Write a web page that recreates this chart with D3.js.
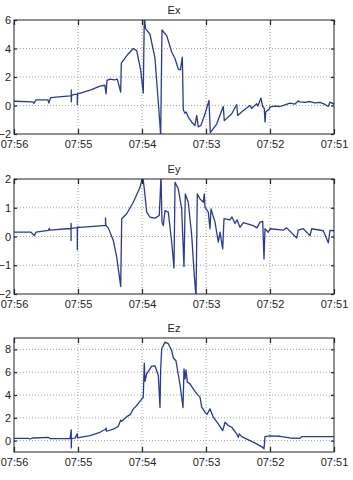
<!DOCTYPE html>
<html>
<head>
<meta charset="utf-8">
<script src="https://cdn.jsdelivr.net/npm/d3@7"></script>
<style>
  body { margin: 0; background: #fff; }
  svg { display: block; font-family: "Liberation Sans", Arial, sans-serif; }
</style>
</head>
<body>
<div id="chart"></div>
<script>
'use strict';

// time in decimal minutes after 07:00 (axis runs 07:56 -> 07:51)
const timeTicks = [56, 55, 54, 53, 52, 51];
const timeLabels = ['07:56', '07:55', '07:54', '07:53', '07:52', '07:51'];

const titles = ['Ex', 'Ey', 'Ez'];
const exTicks = [-2, 0, 2, 4, 6];
const eyTicks = [-2, -1, 0, 1, 2];
const ezTicks = [0, 2, 4, 6, 8];

const exData = [
    [56.000, 0.30], [55.703, 0.25], [55.690, 0.14], [55.656, 0.40], [55.470, 0.40],
    [55.455, 0.17], [55.427, 0.55], [55.125, 0.68], [55.105, 0.70], [55.105, 1.10],
    [55.105, 0.25], [55.100, 0.72], [55.047, 0.78], [55.011, 0.80], [55.011, 0.05],
    [55.005, 0.85], [54.969, 0.85], [54.800, 1.10], [54.656, 1.36], [54.580, 1.42],
    [54.562, 0.82], [54.547, 1.76], [54.500, 1.85], [54.430, 1.80], [54.386, 1.85],
    [54.333, 0.94], [54.323, 2.98], [54.220, 3.60], [54.136, 4.00], [54.083, 3.85],
    [54.020, 2.46], [53.980, 0.87], [53.964, 6.30], [53.945, 5.40], [53.875, 5.00],
    [53.797, 3.30], [53.730, -0.70], [53.708, -2.10], [53.688, 5.30], [53.614, 4.90],
    [53.536, 3.75], [53.484, 3.30], [53.433, 2.55], [53.400, 2.50], [53.370, 3.40],
    [53.355, -0.30], [53.330, -0.55], [53.310, -0.45], [53.277, -0.82], [53.223, -1.17],
    [53.172, -1.40], [53.145, -0.70], [53.120, -1.50], [53.080, -1.40], [53.016, -0.60],
    [52.953, 0.35], [52.933, -1.90], [52.833, -1.30], [52.730, -0.07], [52.714, -1.06],
    [52.598, -0.58], [52.520, 0.07], [52.505, -0.70], [52.417, -0.35], [52.313, 0.00],
    [52.286, -0.20], [52.208, 0.12], [52.190, -0.05], [52.141, 0.52], [52.114, -0.07],
    [52.090, -0.20], [52.078, -1.15], [52.067, -0.45], [52.011, -0.25], [52.000, -0.10],
    [51.920, -0.05], [51.844, -0.07], [51.766, 0.05], [51.688, 0.17], [51.610, 0.10],
    [51.560, 0.32], [51.531, 0.25], [51.450, 0.22], [51.375, 0.28], [51.300, 0.18],
    [51.220, 0.22], [51.150, 0.10], [51.089, -0.07], [51.063, 0.24], [51.000, 0.10]
];

const eyData = [
    [56.000, 0.15], [55.734, 0.15], [55.683, 0.03], [55.656, 0.15], [55.464, 0.21],
    [55.448, 0.28], [55.438, 0.22], [55.177, 0.27], [55.109, 0.27], [55.109, -0.14],
    [55.109, 0.46], [55.105, 0.28], [55.047, 0.30], [55.011, 0.30], [55.011, -0.46],
    [55.008, 0.33], [54.969, 0.32], [54.605, 0.38], [54.570, 0.38], [54.570, 0.65],
    [54.565, 0.38], [54.527, 0.30], [54.448, -0.14], [54.395, -0.72], [54.359, -1.30],
    [54.333, -1.74], [54.317, 0.62], [54.239, 0.79], [54.136, 1.19], [54.031, 1.71],
    [53.989, 2.10], [53.964, 1.66], [53.927, 0.85], [53.875, 0.67], [53.797, 0.64],
    [53.730, 0.73], [53.703, 2.10], [53.688, 0.50], [53.667, 0.38], [53.641, 0.90],
    [53.589, 0.85], [53.536, -0.20], [53.500, -1.10], [53.484, 1.89], [53.433, 1.66],
    [53.380, 0.96], [53.344, -1.05], [53.323, 1.48], [53.277, 1.19], [53.223, 0.03],
    [53.183, -1.36], [53.156, -2.10], [53.136, 1.48], [53.094, 1.31], [53.042, 1.19],
    [53.027, 1.48], [53.016, 1.02], [52.964, 0.85], [52.938, 0.27], [52.922, 0.96],
    [52.859, 0.50], [52.808, -0.20], [52.781, 0.15], [52.739, -0.43], [52.719, 0.62],
    [52.625, 0.58], [52.594, 0.68], [52.547, 0.45], [52.516, 0.58], [52.469, 0.32],
    [52.417, 0.48], [52.261, 0.38], [52.203, 0.30], [52.156, 0.50], [52.114, 0.53],
    [52.094, -0.78], [52.078, 0.27], [52.027, 0.15], [52.000, 0.27], [51.792, 0.22],
    [51.739, 0.30], [51.583, -0.05], [51.558, 0.22], [51.480, 0.27], [51.375, 0.03],
    [51.348, 0.27], [51.167, 0.20], [51.089, -0.22], [51.063, 0.21], [51.000, 0.20]
];

const ezData = [
    [56.000, 0.20], [55.781, 0.20], [55.750, 0.14], [55.703, 0.23], [55.464, 0.29],
    [55.438, 0.18], [55.125, 0.18], [55.105, 0.94], [55.105, -0.64], [55.100, 0.20],
    [55.047, 0.22], [55.011, 0.59], [55.008, 0.25], [54.969, 0.29], [54.813, 0.44],
    [54.656, 0.73], [54.570, 1.00], [54.562, 1.11], [54.555, 0.82], [54.448, 1.00],
    [54.370, 1.25], [54.333, 1.80], [54.317, 1.70], [54.239, 2.10], [54.188, 2.25],
    [54.136, 2.78], [54.083, 3.08], [54.031, 3.46], [53.980, 3.80], [53.964, 6.80],
    [53.953, 5.20], [53.927, 5.86], [53.848, 6.53], [53.797, 6.56], [53.745, 5.71],
    [53.719, 2.90], [53.708, 6.30], [53.692, 8.06], [53.641, 8.64], [53.589, 8.50],
    [53.536, 7.90], [53.511, 7.25], [53.469, 7.00], [53.406, 4.90], [53.359, 2.90],
    [53.344, 6.30], [53.328, 5.40], [53.313, 6.20], [53.292, 5.13], [53.250, 4.98],
    [53.198, 4.54], [53.145, 4.10], [53.094, 3.81], [53.067, 2.93], [53.016, 2.49],
    [52.984, 2.30], [52.938, 2.79], [52.886, 2.05], [52.808, 1.47], [52.739, 0.88],
    [52.703, 1.61], [52.652, 1.32], [52.598, 1.17], [52.520, 0.59], [52.495, 0.29],
    [52.480, 0.59], [52.442, 0.35], [52.313, 0.00], [52.208, -0.29], [52.114, -0.59],
    [52.094, -0.73], [52.078, 0.35], [52.000, 0.41], [51.844, 0.38], [51.688, 0.23],
    [51.531, 0.20], [51.505, 0.35], [51.375, 0.35], [51.000, 0.35]
];

const panels = [
    { title: titles[0], data: exData, ticks: exTicks, domain: [-2, 6], top: 20, bottom: 134 },
    { title: titles[1], data: eyData, ticks: eyTicks, domain: [-2, 2], top: 179, bottom: 294 },
    { title: titles[2], data: ezData, ticks: ezTicks, domain: [-1, 9], top: 338, bottom: 452 }
];

const width = 353, height = 480;
const left = 14, right = 334;
const lineColor = '#2b3b8c';

const svg = d3.select('#chart').append('svg')
    .attr('width', width)
    .attr('height', height);

const x = d3.scaleLinear().domain([timeTicks[0], timeTicks[timeTicks.length - 1]]).range([left, right]);

panels.forEach((p, i) => {
    const y = d3.scaleLinear().domain(p.domain).range([p.bottom, p.top]);
    const g = svg.append('g');

    // grid
    g.selectAll('.gx').data(timeTicks.slice(1, -1)).join('line')
        .attr('x1', d => x(d)).attr('x2', d => x(d))
        .attr('y1', p.top).attr('y2', p.bottom)
        .attr('stroke', '#8a8a8a').attr('stroke-width', 0.8).attr('stroke-dasharray', '1,2');
    g.selectAll('.gy').data(p.ticks.filter(d => y(d) > p.top + 1 && y(d) < p.bottom - 1)).join('line')
        .attr('x1', left).attr('x2', right)
        .attr('y1', d => y(d)).attr('y2', d => y(d))
        .attr('stroke', '#8a8a8a').attr('stroke-width', 0.8).attr('stroke-dasharray', '1,2');

    // clipped line
    const clipId = 'clip' + i;
    svg.append('clipPath').attr('id', clipId)
        .append('rect')
        .attr('x', left).attr('y', p.top)
        .attr('width', right - left).attr('height', p.bottom - p.top);

    const line = d3.line()
        .x(d => x(d[0]))
        .y(d => y(d[1]));

    g.append('path')
        .datum(p.data)
        .attr('d', line)
        .attr('clip-path', `url(#${clipId})`)
        .attr('fill', 'none')
        .attr('stroke', lineColor)
        .attr('stroke-width', 1.3)
        .attr('stroke-linejoin', 'round');

    // axes (ticks point inward)
    const bottomAxis = d3.axisBottom(x).tickValues(timeTicks)
        .tickFormat((d, k) => timeLabels[k]).tickSize(-5).tickPadding(6);
    const topAxis = d3.axisTop(x).tickValues(timeTicks).tickFormat('').tickSize(-5);
    const leftAxis = d3.axisLeft(y).tickValues(p.ticks).tickFormat(d3.format('d'))
        .tickSize(-3).tickPadding(3);
    const rightAxis = d3.axisRight(y).tickValues(p.ticks).tickFormat('').tickSize(-3);

    const axes = [
        g.append('g').attr('transform', `translate(0,${p.bottom})`).call(bottomAxis),
        g.append('g').attr('transform', `translate(0,${p.top})`).call(topAxis),
        g.append('g').attr('transform', `translate(${left},0)`).call(leftAxis),
        g.append('g').attr('transform', `translate(${right},0)`).call(rightAxis)
    ];
    axes.forEach(a => {
        a.select('.domain').remove();
        a.selectAll('.tick line').attr('stroke', '#222').attr('stroke-width', 1.2);
        a.selectAll('text').attr('fill', '#222').style('font-size', '11px')
            .style('font-family', '"Liberation Sans", Arial, sans-serif');
    });

    // frame
    g.append('rect')
        .attr('x', left).attr('y', p.top)
        .attr('width', right - left).attr('height', p.bottom - p.top)
        .attr('fill', 'none').attr('stroke', '#222').attr('stroke-width', 1);

    // title
    g.append('text')
        .attr('x', (left + right) / 2)
        .attr('y', p.top - 6)
        .attr('text-anchor', 'middle')
        .attr('fill', '#222')
        .style('font-size', '11px')
        .text(p.title);
});
</script>
</body>
</html>
